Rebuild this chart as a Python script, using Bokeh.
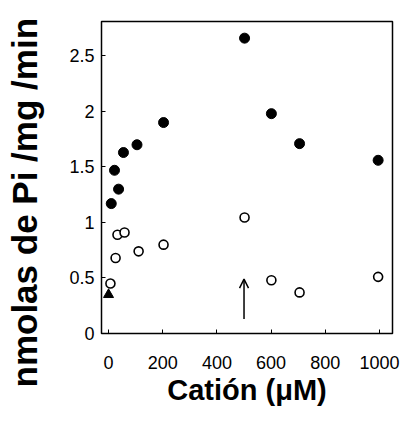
from bokeh.plotting import figure
from bokeh.models import Range1d, FixedTicker, Arrow, OpenHead, Title
from bokeh.embed import file_html
from bokeh.resources import INLINE

# Filled circles
filled_x = [10, 22, 37, 55, 105, 203, 502, 601, 705, 995]
filled_y = [1.17, 1.47, 1.30, 1.63, 1.70, 1.90, 2.66, 1.98, 1.71, 1.56]
# Open circles
open_x = [7, 26, 33, 59, 111, 203, 502, 601, 705, 995]
open_y = [0.45, 0.68, 0.89, 0.91, 0.74, 0.80, 1.045, 0.48, 0.37, 0.51]
# Triangle
tri_x = [0]
tri_y = [0.35]
# Arrow
arrow_x = [500]
arrow_y = [0.13, 0.49]

x_ticks = [0, 200, 400, 600, 800, 1000]
y_ticks = [0, 0.5, 1, 1.5, 2, 2.5]
y_title = "nmolas de Pi /mg /min"
x_title = "Catión (μM)"

FONT = "Liberation Sans"

p = figure(width=400, height=418, output_backend="svg", toolbar_location=None,
           x_range=Range1d(-26, 1048), y_range=Range1d(0, 2.81))
p.min_border_left = 101
p.min_border_right = 8
p.min_border_top = 21
p.min_border_bottom = 85
p.grid.visible = False
p.background_fill_color = "white"
p.border_fill_color = "white"
p.outline_line_color = "black"
p.outline_line_width = 1.5

for ax in (p.xaxis[0], p.yaxis[0]):
    ax.axis_line_color = None
    ax.major_tick_in = 4
    ax.major_tick_out = 0
    ax.minor_tick_line_color = None
    ax.major_tick_line_color = "black"
    ax.major_tick_line_width = 1
    ax.major_label_text_font = FONT
    ax.major_label_text_font_size = "18px"
    ax.major_label_text_color = "black"
    ax.axis_label_text_font = FONT
    ax.axis_label_text_font_style = "bold"
    ax.axis_label_text_color = "black"

p.xaxis.ticker = FixedTicker(ticks=x_ticks)
p.yaxis.ticker = FixedTicker(ticks=y_ticks)
p.xaxis.major_label_standoff = 22
p.yaxis.major_label_standoff = 7
p.xaxis.axis_label = x_title
p.xaxis.axis_label_text_font_size = "29px"
p.xaxis.axis_label_standoff = 2
# empty spacer label between the tick labels and the y title
p.yaxis.axis_label = " "
p.yaxis.axis_label_text_font_size = "10px"
p.yaxis.axis_label_standoff = 7

p.add_layout(Title(text=y_title, align="left", offset=-54, standoff=4,
                   text_font=FONT, text_font_style="bold",
                   text_font_size="35px", text_color="black"), "left")

p.scatter(filled_x, filled_y, marker="circle", size=10, fill_color="black",
          line_color="black")
p.scatter(open_x, open_y, marker="circle", size=9, fill_color="white",
          line_color="black", line_width=1.6)
p.scatter(tri_x, tri_y, marker="triangle", size=10, fill_color="black",
          line_color="black")

p.add_layout(Arrow(end=OpenHead(size=9, line_width=1.5, line_color="black"),
                   x_start=arrow_x[0], y_start=arrow_y[0],
                   x_end=arrow_x[0], y_end=arrow_y[1],
                   line_width=1.5, line_color="black"))

open("out.html", "w").write(file_html(p, INLINE))
